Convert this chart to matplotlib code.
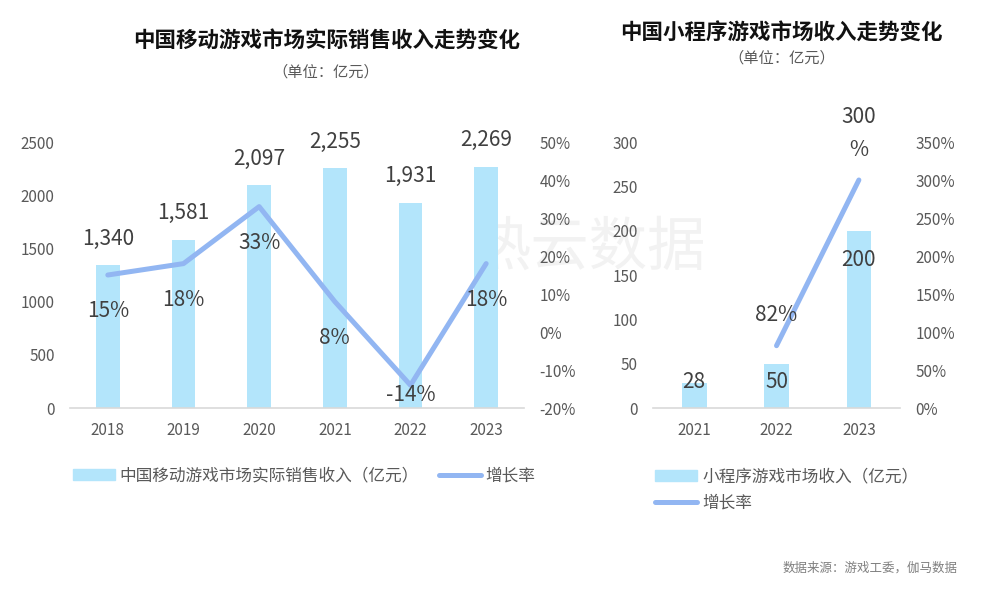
import numpy as np
import matplotlib
matplotlib.use('Agg')
import matplotlib.pyplot as plt
from matplotlib.patches import Patch
from matplotlib.lines import Line2D

plt.rcParams['font.family'] = ['Noto Sans CJK SC', 'DejaVu Sans']

# data
years_a = ['2018', '2019', '2020', '2021', '2022', '2023']
revenue_a = [1340, 1581, 2097, 2255, 1931, 2269]
growth_a = [15, 18, 33, 8, -14, 18]

years_b = ['2021', '2022', '2023']
revenue_b = [28, 50, 200]
growth_b = [np.nan, 82, 300]

bar_c = '#b3e5fb'
line_c = '#92b6f2'
tick_c = '#595959'
lab_c = '#404040'

fig = plt.figure(figsize=(9.87, 5.89), dpi=100)

# watermark, behind the axes
fig.text(0.597, 0.578, '热云数据', fontsize=42, color='#f2f2f2',
         ha='center', va='center', zorder=-1)


def style(ax, tw):
    for a in (ax, tw):
        for s in ('top', 'left', 'right', 'bottom'):
            a.spines[s].set_visible(False)
        a.tick_params(length=0, labelsize=11, labelcolor=tick_c, pad=11)
        a.set_facecolor('none')
    ax.spines['bottom'].set_visible(True)
    ax.spines['bottom'].set_color('#d9d9d9')
    ax.spines['bottom'].set_linewidth(1.2)
    ax.tick_params(axis='x', pad=10)


def pct(v):
    return ('-' if v < 0 else '') + '%d%%' % abs(v)


# left chart
ax = fig.add_axes([0.0709, 0.3073, 0.46, 0.4516])
tw = ax.twinx()
xa = np.arange(len(years_a))
ax.bar(xa, revenue_a, width=0.31, color=bar_c, zorder=2)
ax.set_xlim(-0.5, 5.5)
ax.set_ylim(0, 2500)
ax.set_yticks(range(0, 2501, 500))
ax.set_xticks(xa, years_a)
tw.plot(xa, np.array(growth_a) / 100, color=line_c, lw=3.6,
        solid_capstyle='round', solid_joinstyle='round', zorder=3)
tw.set_ylim(-0.2, 0.5)
tw.set_yticks(np.arange(-0.2, 0.51, 0.1))
tw.set_yticklabels([pct(round(v * 100)) for v in np.arange(-0.2, 0.51, 0.1)])
style(ax, tw)
for x, v in zip(xa, revenue_a):
    ax.annotate(f'{v:,}', (x, v), xytext=(0, 19), textcoords='offset points',
                ha='center', va='center', fontsize=15, color=lab_c)
# growth labels sit below the line, kept inside the plot area
for x, g in zip(xa, growth_a):
    tw.text(x, max(g - 9.5, -16.6) / 100, pct(g), ha='center', va='center',
            fontsize=15, color=lab_c, zorder=4)

fig.text(0.331, 0.932, '中国移动游戏市场实际销售收入走势变化', fontsize=15.5,
         fontweight='bold', ha='center', va='center', color='#111111')
fig.text(0.330, 0.877, '（单位：亿元）', fontsize=11, ha='center', va='center', color=tick_c)

fig.legend(handles=[Patch(color=bar_c), Line2D([], [], color=line_c, lw=3.6, solid_capstyle='round')],
           labels=['中国移动游戏市场实际销售收入（亿元）', '增长率'],
           loc='center left', bbox_to_anchor=(0.074, 0.192), ncol=2, frameon=False,
           fontsize=12, labelcolor=tick_c, handlelength=2.5, handletextpad=0.3,
           columnspacing=1.2, borderpad=0, borderaxespad=0)

# right chart
bx = fig.add_axes([0.6616, 0.3073, 0.2503, 0.4516])
bw = bx.twinx()
xb = np.arange(len(years_b))
bx.bar(xb, revenue_b, width=0.30, color=bar_c, zorder=2)
bx.set_xlim(-0.5, 2.5)
bx.set_ylim(0, 300)
bx.set_yticks(range(0, 301, 50))
bx.set_xticks(xb, years_b)
bw.plot(xb, np.array(growth_b) / 100, color=line_c, lw=3.6,
        solid_capstyle='round', zorder=3)
bw.set_ylim(0, 3.5)
bw.set_yticks(np.arange(0, 3.51, 0.5))
bw.set_yticklabels([pct(round(v * 100)) for v in np.arange(0, 3.51, 0.5)])
style(bx, bw)
for x, v in zip(xb, revenue_b):
    bx.text(x, max(v - 33, 29), f'{v}', ha='center', va='center',
            fontsize=15, color=lab_c, zorder=4)
for x, g in zip(xb, growth_b):
    if np.isnan(g):
        continue
    s = pct(g) if g < 100 else '%d\n%%' % g
    bw.annotate(s, (x, g / 100), xytext=(0, 14), textcoords='offset points',
                ha='center', va='bottom', fontsize=15, color=lab_c,
                linespacing=1.6, zorder=4)

fig.text(0.792, 0.944, '中国小程序游戏市场收入走势变化', fontsize=15.5,
         fontweight='bold', ha='center', va='center', color='#111111')
fig.text(0.792, 0.901, '（单位：亿元）', fontsize=11, ha='center', va='center', color=tick_c)

fig.legend(handles=[Patch(color=bar_c), Line2D([], [], color=line_c, lw=3.6, solid_capstyle='round')],
           labels=['小程序游戏市场收入（亿元）', '增长率'],
           loc='center left', bbox_to_anchor=(0.664, 0.168), ncol=1, frameon=False,
           fontsize=12, labelcolor=tick_c, handlelength=2.5, handletextpad=0.3,
           labelspacing=0.55, borderpad=0, borderaxespad=0)

fig.text(0.970, 0.035, '数据来源：游戏工委，伽马数据', fontsize=9, ha='right',
         va='center', color='#7f7f7f')

fig.savefig('out.png', dpi=100)
